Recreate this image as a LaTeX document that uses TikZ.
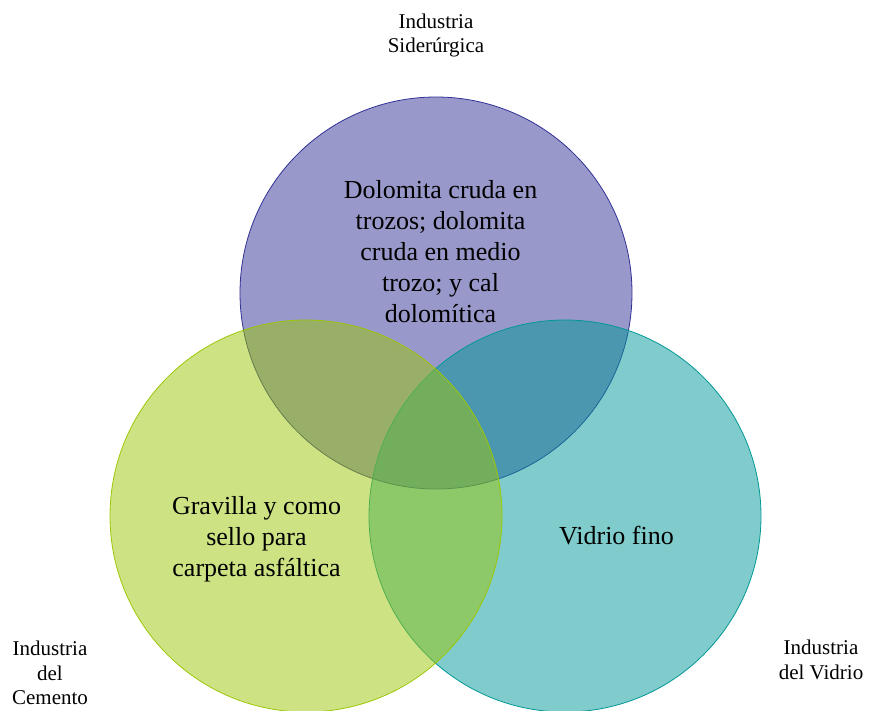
\documentclass[tikz,border=0pt]{standalone}
\usepackage{fontspec}
\setmainfont{Liberation Serif}
\definecolor{cTop}{HTML}{313195}
\definecolor{cLeft}{HTML}{9BC707}
\definecolor{cRight}{HTML}{019797}
\tikzset{
  venn/.style={circle, minimum size=392pt, inner sep=0pt, fill opacity=0.5, draw opacity=1, line width=0.8pt},
  maintext/.style={align=center, inner sep=0pt, font=\fontsize{26}{31}\selectfont, text=black},
  labeltext/.style={align=center, inner sep=0pt, font=\fontsize{21}{24.5}\selectfont, text=black}
}
\begin{document}
\begin{tikzpicture}[x=1pt,y=-1pt]
\useasboundingbox (0,0) rectangle (870,710);
\node[venn, fill=cTop, draw=cTop] (top) at (436,293) {};
\node[venn, fill=cRight, draw=cRight] (right) at (565,516) {};
\node[venn, fill=cLeft, draw=cLeft] (left) at (306,516) {};
\node[maintext] (ttop) at (440.5,251.6) {Dolomita cruda en\\trozos; dolomita\\cruda en medio\\trozo; y cal\\dolomítica};
\node[maintext] (tleft) at (256.5,539.4) {Gravilla y como\\sello para\\carpeta asfáltica};
\node[maintext, anchor=base] (tright) at (616.5,544) {Vidrio fino};
\node[labeltext] (ltop) at (436,35.6) {Industria\\Siderúrgica};
\node[labeltext] (lleft) at (50,672.9) {Industria\\del\\Cemento};
\node[labeltext] (lright) at (821,659.9) {Industria\\del Vidrio};
\end{tikzpicture}
\end{document}
